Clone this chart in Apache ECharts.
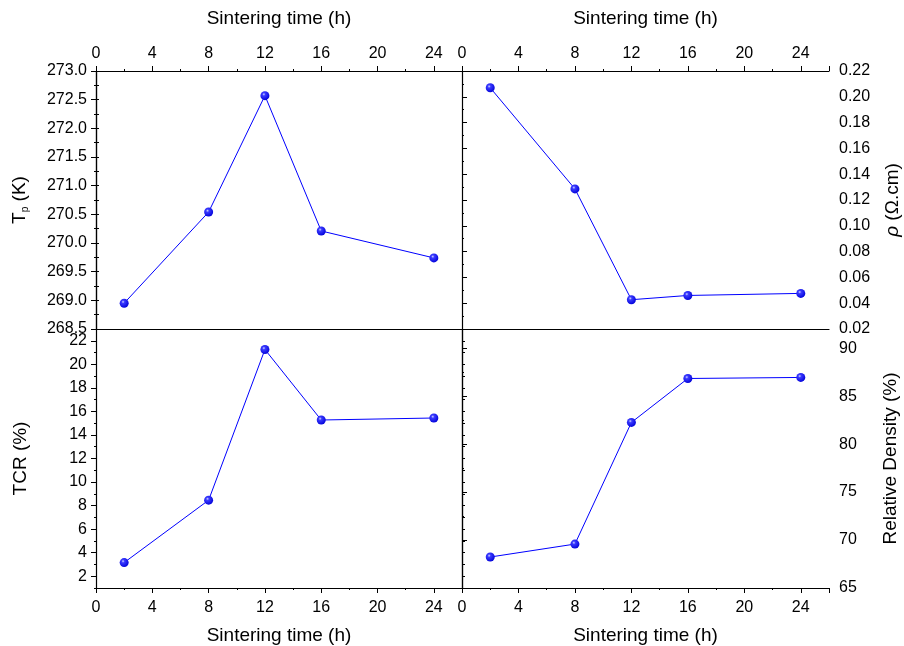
<!DOCTYPE html>
<html>
<head>
<meta charset="utf-8">
<script src="https://cdn.jsdelivr.net/npm/echarts@6/dist/echarts.min.js"></script>
<style>
  html, body { margin: 0; padding: 0; background: #fff; }
  #chart { width: 904px; height: 646px; }
</style>
</head>
<body>
<div id="chart"></div>
<script>
  // sintering time (h)
  const hours = [2, 8, 12, 16, 24]
  const tpValues = [268.95, 270.54, 272.57, 270.21, 269.74]
  const rhoValues = [0.207, 0.1286, 0.0427, 0.046, 0.0476]
  const tcrValues = [3.16, 8.46, 21.26, 15.27, 15.44]
  const densityValues = [68.23, 69.58, 82.26, 86.84, 86.95]
  const tcrLabels = [2, 4, 6, 8, 10, 12, 14, 16, 18, 20, 22]
  const tcrMinor = [1, 3, 5, 7, 9, 11, 13, 15, 17, 19, 21, 23]

  const font = 'Arial, "Liberation Sans", sans-serif'
  const black = '#000'
  const labelSize = 16
  const nameSize = 19

  const pair = (xs, ys) => xs.map((x, i) => [x, ys[i]])

  const ball = {
    type: 'radial', x: 0.38, y: 0.35, r: 0.7,
    colorStops: [
      {offset: 0, color: '#d0d6ff'},
      {offset: 0.25, color: '#3a3aff'},
      {offset: 1, color: '#0000d8'}
    ]
  }

  const line = {show: true, lineStyle: {color: black, width: 1.2}}

  function xAxis(grid, pos, named) {
    return {
      type: 'value', gridIndex: grid, position: pos,
      min: 0, max: 26, interval: 4,
      name: named ? 'Sintering time (h)' : '',
      nameLocation: 'middle',
      nameGap: pos === 'top' ? 43 : 38,
      nameTextStyle: {fontFamily: font, fontSize: nameSize, color: black},
      axisLine: line,
      axisTick: {show: named, inside: false, length: 5, lineStyle: {color: black}},
      minorTick: {show: named, splitNumber: 2, length: 2, lineStyle: {color: black}},
      axisLabel: {
        show: named, margin: pos === 'top' ? 9 : 12, fontFamily: font, fontSize: labelSize, color: black,
        formatter: v => (v % 4 === 0 ? String(v) : '')
      },
      splitLine: {show: false}
    }
  }

  const chart = echarts.init(document.getElementById('chart'))

  chart.setOption({
    backgroundColor: '#fff',
    animation: false,
    grid: [
      {left: 96, top: 71, width: 366, height: 258, containLabel: false, outerBoundsMode: 'none'},
      {left: 462, top: 71, width: 367, height: 258, containLabel: false, outerBoundsMode: 'none'},
      {left: 96, top: 329, width: 366, height: 259, containLabel: false, outerBoundsMode: 'none'},
      {left: 462, top: 329, width: 367, height: 259, containLabel: false, outerBoundsMode: 'none'}
    ],
    xAxis: [
      xAxis(0, 'top', true),
      xAxis(1, 'top', true),
      xAxis(2, 'bottom', true),
      xAxis(3, 'bottom', true),
      xAxis(0, 'bottom', false),
      xAxis(1, 'bottom', false)
    ],
    yAxis: [
      // 0: Tp
      {
        type: 'value', gridIndex: 0, position: 'left',
        min: 268.5, max: 273, interval: 0.5,
        name: 'T{sub|p} (K)', nameLocation: 'middle', nameGap: 66, nameRotate: 90,
        nameTextStyle: {
          fontFamily: font, fontSize: nameSize, color: black,
          rich: {sub: {fontFamily: font, fontSize: 10, color: black, padding: [10, 0, 0, 0]}}
        },
        axisLine: line,
        axisTick: {length: 5, lineStyle: {color: black}},
        minorTick: {show: true, splitNumber: 2, length: 2, lineStyle: {color: black}},
        axisLabel: {margin: 9, fontFamily: font, fontSize: labelSize, color: black, formatter: v => v.toFixed(1)},
        splitLine: {show: false}
      },
      // 1: Tp, right edge ticks
      {
        type: 'value', gridIndex: 0, position: 'right',
        min: 268.5, max: 273, interval: 0.5,
        axisLine: line,
        axisTick: {length: 3, lineStyle: {color: black}},
        minorTick: {show: true, splitNumber: 2, length: 3, lineStyle: {color: black}},
        axisLabel: {show: false},
        splitLine: {show: false}
      },
      // 2: rho
      {
        type: 'value', gridIndex: 1, position: 'right',
        min: 0.02, max: 0.22, interval: 0.02,
        name: '{it|ρ} (Ω.cm)', nameLocation: 'middle', nameGap: 54, nameRotate: 90,
        nameTextStyle: {
          fontFamily: font, fontSize: nameSize, color: black,
          rich: {it: {fontFamily: font, fontSize: nameSize, fontStyle: 'italic', color: black}}
        },
        axisLine: line,
        axisTick: {length: 5, lineStyle: {color: black}},
        minorTick: {show: true, splitNumber: 2, length: 2, lineStyle: {color: black}},
        axisLabel: {margin: 10, fontFamily: font, fontSize: labelSize, color: black, formatter: v => v.toFixed(2)},
        splitLine: {show: false}
      },
      // 3: TCR
      {
        type: 'value', gridIndex: 2, position: 'left',
        min: 1, max: 23,
        name: 'TCR (%)', nameLocation: 'middle', nameGap: 66, nameRotate: 90,
        nameTextStyle: {fontFamily: font, fontSize: nameSize, color: black},
        axisLine: line,
        axisTick: {length: 5, customValues: tcrLabels, lineStyle: {color: black}},
        axisLabel: {margin: 9, fontFamily: font, fontSize: labelSize, color: black, customValues: tcrLabels},
        splitLine: {show: false}
      },
      // 4: TCR minor ticks
      {
        type: 'value', gridIndex: 2, position: 'left',
        min: 1, max: 23,
        axisLine: {show: false},
        axisTick: {length: 2, customValues: tcrMinor, lineStyle: {color: black}},
        axisLabel: {show: false, customValues: tcrMinor},
        splitLine: {show: false}
      },
      // 5: TCR right edge
      {
        type: 'value', gridIndex: 2, position: 'right',
        min: 1, max: 23,
        axisLine: line,
        axisTick: {length: 3, customValues: tcrMinor.concat(tcrLabels), lineStyle: {color: black}},
        axisLabel: {show: false, customValues: tcrLabels},
        splitLine: {show: false}
      },
      // 6: relative density
      {
        type: 'value', gridIndex: 3, position: 'right',
        min: 65, max: 92, interval: 5,
        name: 'Relative Density (%)', nameLocation: 'middle', nameGap: 52, nameRotate: 90,
        nameTextStyle: {fontFamily: font, fontSize: nameSize, color: black},
        axisLine: line,
        axisTick: {length: 5, lineStyle: {color: black}},
        minorTick: {show: true, splitNumber: 2, length: 2, lineStyle: {color: black}},
        axisLabel: {
          margin: 10, fontFamily: font, fontSize: labelSize, color: black,
          formatter: v => (v % 5 === 0 ? String(v) : '')
        },
        splitLine: {show: false}
      }
    ],
    series: [
      {xAxisIndex: 0, yAxisIndex: 0, data: pair(hours, tpValues)},
      {xAxisIndex: 1, yAxisIndex: 2, data: pair(hours, rhoValues)},
      {xAxisIndex: 2, yAxisIndex: 3, data: pair(hours, tcrValues)},
      {xAxisIndex: 3, yAxisIndex: 6, data: pair(hours, densityValues)}
    ].map(s => Object.assign({
      type: 'line',
      symbol: 'circle',
      symbolSize: 9,
      lineStyle: {color: '#0000ff', width: 1},
      itemStyle: {color: ball, borderWidth: 0}
    }, s))
  })
</script>
</body>
</html>
